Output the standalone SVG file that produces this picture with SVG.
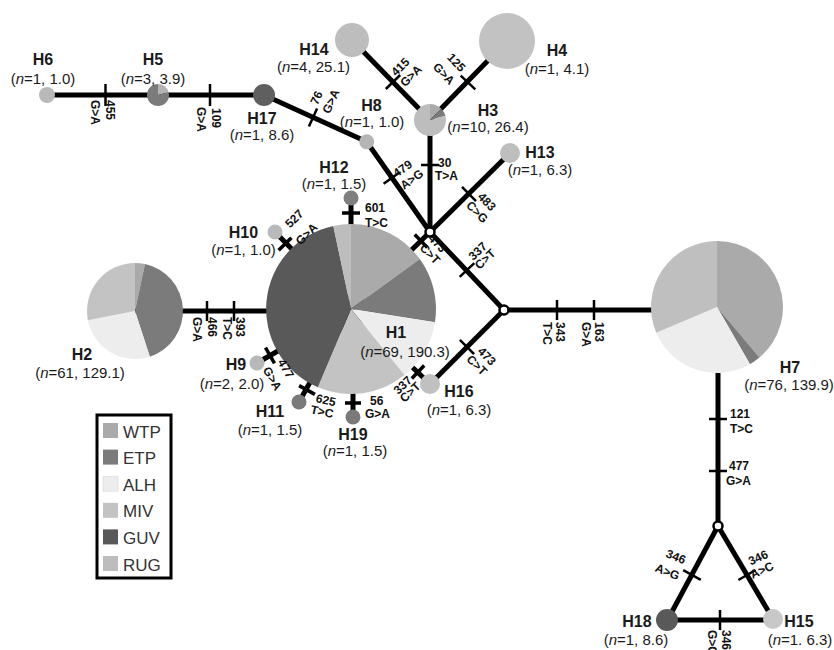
<svg xmlns="http://www.w3.org/2000/svg" width="834" height="650" viewBox="0 0 834 650">
<style>
.c{stroke:#000;stroke-width:5;fill:none}
.t{stroke:#000;stroke-width:2.5}
.t2{stroke:#000;stroke-width:3.5}
.m{font-family:"Liberation Sans",Arial,sans-serif;font-weight:bold;font-size:12px;fill:#111}
.nm{font-family:"Liberation Sans",Arial,sans-serif;font-weight:bold;font-size:16px;fill:#1a1a1a;text-anchor:middle}
.ct{font-family:"Liberation Sans",Arial,sans-serif;font-size:15px;fill:#1a1a1a;text-anchor:middle}
.lg{font-family:"Liberation Sans",Arial,sans-serif;font-size:17px;fill:#333}
.j{fill:#fff;stroke:#000;stroke-width:2.5}
.wtp{fill:#aaaaaa}.etp{fill:#7b7b7b}.alh{fill:#ededed}.miv{fill:#c3c3c3}.guv{fill:#595959}.rug{fill:#bdbdbd}
</style>
<rect width="834" height="650" fill="#fff"/>
<g id="connectors">
<line class="c" x1="47" y1="95" x2="264" y2="95"/>
<line class="c" x1="264" y1="95" x2="366.7" y2="141.7"/>
<line class="c" x1="366.7" y1="141.7" x2="430" y2="232"/>
<line class="c" x1="352" y1="40" x2="430" y2="120"/>
<line class="c" x1="507" y1="41" x2="430" y2="120"/>
<line class="c" x1="430" y1="120" x2="430" y2="232"/>
<line class="c" x1="510" y1="153" x2="430" y2="232"/>
<line class="c" x1="430" y1="232" x2="351" y2="309"/>
<line class="c" x1="430" y1="232" x2="504" y2="310"/>
<line class="c" x1="504" y1="310" x2="430" y2="384"/>
<line class="c" x1="430" y1="384" x2="351" y2="309"/>
<line class="c" x1="504" y1="310" x2="670" y2="310"/>
<line class="c" x1="718" y1="340" x2="718" y2="526"/>
<line class="c" x1="718" y1="526" x2="667" y2="621"/>
<line class="c" x1="718" y1="526" x2="773" y2="619"/>
<line class="c" x1="667" y1="620" x2="773" y2="620"/>
<line class="c" x1="135" y1="311" x2="300" y2="311"/>
<line class="c" x1="275" y1="232" x2="351" y2="309"/>
<line class="c" x1="351" y1="198" x2="351" y2="309"/>
<line class="c" x1="257" y1="363" x2="351" y2="309"/>
<line class="c" x1="299" y1="402" x2="351" y2="309"/>
<line class="c" x1="353" y1="417" x2="353" y2="309"/>
</g>
<g id="nodes">
<g id="H1">
<path class="wtp" d="M351,309 L351,224 A85,85 0 0 1 419.8,259 Z"/>
<path class="etp" d="M351,309 L419.8,259 A85,85 0 0 1 434.95,322.3 Z"/>
<path class="alh" d="M351,309 L434.95,322.3 A85,85 0 0 1 404.5,375.05 Z"/>
<path class="miv" d="M351,309 L404.5,375.05 A85,85 0 0 1 317.8,387.2 Z"/>
<path class="guv" d="M351,309 L317.8,387.2 A85,85 0 0 1 333.3,225.9 Z"/>
<path class="rug" d="M351,309 L333.3,225.9 A85,85 0 0 1 351,224 Z"/>
<text class="nm" x="396" y="338">H1</text>
<text class="ct" x="405" y="357">(<tspan font-style="italic">n</tspan>=69, 190.3)</text>
</g>
<g id="H2">
<path class="wtp" d="M135,311 L135,263 A48,48 0 0 1 144.98,264.05 Z"/>
<path class="etp" d="M135,311 L144.98,264.05 A48,48 0 0 1 149.83,356.65 Z"/>
<path class="alh" d="M135,311 L149.83,356.65 A48,48 0 0 1 87.88,320.16 Z"/>
<path class="miv" d="M135,311 L87.88,320.16 A48,48 0 0 1 135,263 Z"/>
<text class="nm" x="82" y="360">H2</text>
<text class="ct" x="80" y="378">(<tspan font-style="italic">n</tspan>=61, 129.1)</text>
</g>
<g id="H3">
<path fill="#ababab" d="M430,120 L430,104 A16,16 0 0 1 441.31,108.69 Z"/>
<path class="etp" d="M430,120 L441.31,108.69 A16,16 0 0 1 445.45,115.86 Z"/>
<path fill="#bdbdbd" d="M430,120 L445.45,115.86 A16,16 0 1 1 430,104 Z"/>
<text class="nm" x="488" y="116">H3</text>
<text class="ct" x="488" y="132">(<tspan font-style="italic">n</tspan>=10, 26.4)</text>
</g>
<g id="H4">
<circle cx="507" cy="41" r="28" fill="#c2c2c2"/>
<text class="nm" x="557" y="56">H4</text>
<text class="ct" x="557" y="74">(<tspan font-style="italic">n</tspan>=1, 4.1)</text>
</g>
<g id="H5">
<path fill="#b3b3b3" d="M158,95 L158,84 A11,11 0 0 1 168.62,92.15 Z"/>
<path class="etp" d="M158,95 L168.62,92.15 A11,11 0 1 1 158,84 Z"/>
<text class="nm" x="153" y="65">H5</text>
<text class="ct" x="153" y="84">(<tspan font-style="italic">n</tspan>=3, 3.9)</text>
</g>
<g id="H6">
<circle cx="47" cy="95" r="8" fill="#b9b9b9"/>
<text class="nm" x="43" y="65">H6</text>
<text class="ct" x="43" y="84">(<tspan font-style="italic">n</tspan>=1, 1.0)</text>
</g>
<g id="H7">
<path class="wtp" d="M717,307 L717,241 A66,66 0 0 1 759.42,357.56 Z"/>
<path class="etp" d="M717,307 L759.42,357.56 A66,66 0 0 1 750,364.16 Z"/>
<path class="alh" d="M717,307 L750,364.16 A66,66 0 0 1 656.25,332.79 Z"/>
<path fill="#bfbfbf" d="M717,307 L656.25,332.79 A66,66 0 0 1 717,241 Z"/>
<text class="nm" x="790" y="373">H7</text>
<text class="ct" x="789" y="390">(<tspan font-style="italic">n</tspan>=76, 139.9)</text>
</g>
<g id="H8">
<circle cx="366.7" cy="141.7" r="7.5" fill="#b5b5b5"/>
<text class="nm" x="371.5" y="111">H8</text>
<text class="ct" x="372" y="127">(<tspan font-style="italic">n</tspan>=1, 1.0)</text>
</g>
<g id="H9">
<circle cx="257" cy="363" r="7.5" fill="#b8b8b8"/>
<text class="nm" x="236" y="370">H9</text>
<text class="ct" x="232" y="388.5">(<tspan font-style="italic">n</tspan>=2, 2.0)</text>
</g>
<g id="H10">
<circle cx="275" cy="232" r="7.5" fill="#b9b9b9"/>
<text class="nm" x="243.5" y="238">H10</text>
<text class="ct" x="243.5" y="255">(<tspan font-style="italic">n</tspan>=1, 1.0)</text>
</g>
<g id="H11">
<circle cx="299" cy="402" r="7.5" fill="#7a7a7a"/>
<text class="nm" x="270" y="417">H11</text>
<text class="ct" x="270" y="435">(<tspan font-style="italic">n</tspan>=1, 1.5)</text>
</g>
<g id="H12">
<circle cx="351" cy="198" r="7.5" fill="#7f7f7f"/>
<text class="nm" x="334" y="173">H12</text>
<text class="ct" x="334" y="188.5">(<tspan font-style="italic">n</tspan>=1, 1.5)</text>
</g>
<g id="H13">
<circle cx="510" cy="153" r="10" fill="#bebebe"/>
<text class="nm" x="540" y="158">H13</text>
<text class="ct" x="540" y="175">(<tspan font-style="italic">n</tspan>=1, 6.3)</text>
</g>
<g id="H14">
<circle cx="352" cy="40" r="17" fill="#bdbdbd"/>
<text class="nm" x="314" y="55">H14</text>
<text class="ct" x="313.5" y="72">(<tspan font-style="italic">n</tspan>=4, 25.1)</text>
</g>
<g id="H15">
<circle cx="773" cy="619" r="10" fill="#c8c8c8"/>
<text class="nm" x="799" y="627">H15</text>
<text class="ct" x="800" y="645">(<tspan font-style="italic">n</tspan>=1. 6.3)</text>
</g>
<g id="H16">
<circle cx="430" cy="384" r="10" fill="#c0c0c0"/>
<text class="nm" x="459" y="397">H16</text>
<text class="ct" x="459" y="415">(<tspan font-style="italic">n</tspan>=1, 6.3)</text>
</g>
<g id="H17">
<circle cx="264" cy="95" r="11" fill="#5f5f5f"/>
<text class="nm" x="262" y="123.5">H17</text>
<text class="ct" x="262" y="140">(<tspan font-style="italic">n</tspan>=1, 8.6)</text>
</g>
<g id="H18">
<circle cx="667" cy="620" r="11" fill="#595959"/>
<text class="nm" x="637" y="627">H18</text>
<text class="ct" x="636" y="645">(<tspan font-style="italic">n</tspan>=1, 8.6)</text>
</g>
<g id="H19">
<circle cx="353" cy="417" r="7.5" fill="#7a7a7a"/>
<text class="nm" x="353" y="440">H19</text>
<text class="ct" x="355" y="456">(<tspan font-style="italic">n</tspan>=1, 1.5)</text>
</g>
<circle id="J1" class="j" cx="430" cy="232" r="4.5"/>
<circle id="J2" class="j" cx="504" cy="310" r="4.5"/>
<circle id="J3" class="j" cx="718" cy="526" r="4.5"/>
</g>
<g id="mutations">
<line class="t" x1="105.5" y1="84" x2="105.5" y2="106"/>
<line class="t" x1="210" y1="84" x2="210" y2="106"/>
<line class="t" x1="308.9" y1="126.6" x2="317.1" y2="108.4"/>
<line class="t" x1="385.8" y1="89" x2="400.2" y2="75"/>
<line class="t" x1="460.7" y1="75.7" x2="475.3" y2="89.3"/>
<line class="t" x1="421" y1="165" x2="439" y2="165"/>
<line class="t" x1="383.6" y1="183.8" x2="399.8" y2="172.2"/>
<line class="t" x1="462" y1="186.9" x2="476" y2="201.1"/>
<line class="t2" x1="414.7" y1="234.6" x2="427.3" y2="247.4"/>
<line class="t" x1="459.7" y1="276.9" x2="474.3" y2="263.1"/>
<line class="t" x1="459.9" y1="339.9" x2="474.1" y2="354.1"/>
<line class="t2" x1="411.8" y1="378.5" x2="424.2" y2="365.5"/>
<line class="t2" x1="342" y1="213" x2="360" y2="213"/>
<line class="t2" x1="278.6" y1="250.3" x2="291.4" y2="237.7"/>
<line class="t" x1="207" y1="301" x2="207" y2="321"/>
<line class="t" x1="234" y1="301" x2="234" y2="321"/>
<line class="t2" x1="265.5" y1="347.7" x2="274.5" y2="363.3"/>
<line class="t2" x1="299.1" y1="385.6" x2="314.9" y2="394.4"/>
<line class="t2" x1="345" y1="403" x2="361" y2="403"/>
<line class="t" x1="557" y1="300" x2="557" y2="320"/>
<line class="t" x1="594" y1="300" x2="594" y2="320"/>
<line class="t" x1="709" y1="419" x2="727" y2="419"/>
<line class="t" x1="709" y1="471" x2="727" y2="471"/>
<line class="t" x1="683.2" y1="570.2" x2="700.8" y2="579.8"/>
<line class="t" x1="738.4" y1="580" x2="755.6" y2="570"/>
<line class="t" x1="720" y1="610" x2="720" y2="630"/>
<text class="m" transform="translate(105.5,100) rotate(90)">455</text>
<text class="m" transform="translate(91,100) rotate(90)">G&gt;A</text>
<text class="m" transform="translate(211.5,108) rotate(90)">109</text>
<text class="m" transform="translate(196.5,107) rotate(90)">G&gt;A</text>
<text class="m" transform="translate(317.5,105.5) rotate(-65.7)">76</text>
<text class="m" transform="translate(329.5,114.5) rotate(-65.7)">G&gt;A</text>
<text class="m" transform="translate(395.9,76.8) rotate(-44.3)">415</text>
<text class="m" transform="translate(404.9,87.6) rotate(-44.3)">G&gt;A</text>
<text class="m" transform="translate(446.5,58.1) rotate(46.8)">125</text>
<text class="m" transform="translate(432.3,67.4) rotate(46.8)">G&gt;A</text>
<text class="m" x="438" y="167">30</text>
<text class="m" x="435" y="179.5">T&gt;A</text>
<text class="m" transform="translate(396.8,177.8) rotate(-35.4)">479</text>
<text class="m" transform="translate(404,189.9) rotate(-35.4)">A&gt;G</text>
<text class="m" transform="translate(476.9,197.4) rotate(45.3)">483</text>
<text class="m" transform="translate(465.5,206) rotate(45.3)">C&gt;G</text>
<text class="m" transform="translate(427.5,239) rotate(45.7)">473</text>
<text class="m" transform="translate(419,248.5) rotate(45.7)">C&gt;T</text>
<text class="m" transform="translate(473.2,261) rotate(-43.5)">337</text>
<text class="m" transform="translate(479.6,270) rotate(-43.5)">C&gt;T</text>
<text class="m" transform="translate(476.9,352) rotate(45)">473</text>
<text class="m" transform="translate(465.8,359.9) rotate(45)">C&gt;T</text>
<text class="m" transform="translate(398.2,395) rotate(-43.5)">337</text>
<text class="m" transform="translate(404.6,403) rotate(-43.5)">C&gt;T</text>
<text class="m" x="365" y="212">601</text>
<text class="m" x="365" y="226.5">T&gt;C</text>
<text class="m" transform="translate(289.9,228.6) rotate(-44.6)">527</text>
<text class="m" transform="translate(300.6,245.8) rotate(-44.6)">G&gt;A</text>
<text class="m" transform="translate(207.5,317) rotate(90)">466</text>
<text class="m" transform="translate(193,317) rotate(90)">G&gt;A</text>
<text class="m" transform="translate(235.5,317) rotate(90)">393</text>
<text class="m" transform="translate(223,317) rotate(90)">T&gt;C</text>
<text class="m" transform="translate(277.3,362) rotate(60.1)">477</text>
<text class="m" transform="translate(262.5,369.8) rotate(60.1)">G&gt;A</text>
<text class="m" transform="translate(315.3,402.1) rotate(12)">625</text>
<text class="m" transform="translate(309.9,413.3) rotate(12)">T&gt;C</text>
<text class="m" x="370" y="405">56</text>
<text class="m" x="365" y="418">G&gt;A</text>
<text class="m" transform="translate(556,322) rotate(90)">343</text>
<text class="m" transform="translate(543,322) rotate(90)">T&gt;C</text>
<text class="m" transform="translate(594.5,322) rotate(90)">163</text>
<text class="m" transform="translate(581.5,322) rotate(90)">G&gt;A</text>
<text class="m" x="730" y="418">121</text>
<text class="m" x="730" y="433">T&gt;C</text>
<text class="m" x="729" y="470">477</text>
<text class="m" x="726" y="485">G&gt;A</text>
<text class="m" transform="translate(665.1,556.7) rotate(22)">346</text>
<text class="m" transform="translate(654.3,571) rotate(22)">A&gt;G</text>
<text class="m" transform="translate(750.8,565.6) rotate(-25)">346</text>
<text class="m" transform="translate(752.6,579.1) rotate(-25)">A&gt;C</text>
<text class="m" transform="translate(721.5,630) rotate(90)">346</text>
<text class="m" transform="translate(708,630) rotate(90)">G&gt;C</text>
</g>
<g id="legend">
<rect x="97" y="415" width="74" height="163" fill="#fff" stroke="#000" stroke-width="3"/>
<rect x="103" y="423" width="15" height="15" class="wtp"/>
<rect x="103" y="449.6" width="15" height="15" class="etp"/>
<rect x="103" y="476.2" width="15" height="15" class="alh" stroke="#d8d8d8" stroke-width="0.6"/>
<rect x="103" y="502.8" width="15" height="15" class="miv"/>
<rect x="103" y="529.4" width="15" height="15" class="guv"/>
<rect x="103" y="556" width="15" height="15" class="rug"/>
<text class="lg" x="123" y="437.5">WTP</text>
<text class="lg" x="123" y="464">ETP</text>
<text class="lg" x="123" y="490.7">ALH</text>
<text class="lg" x="123" y="517.3">MIV</text>
<text class="lg" x="123" y="543.9">GUV</text>
<text class="lg" x="123" y="570.5">RUG</text>
</g>
</svg>
